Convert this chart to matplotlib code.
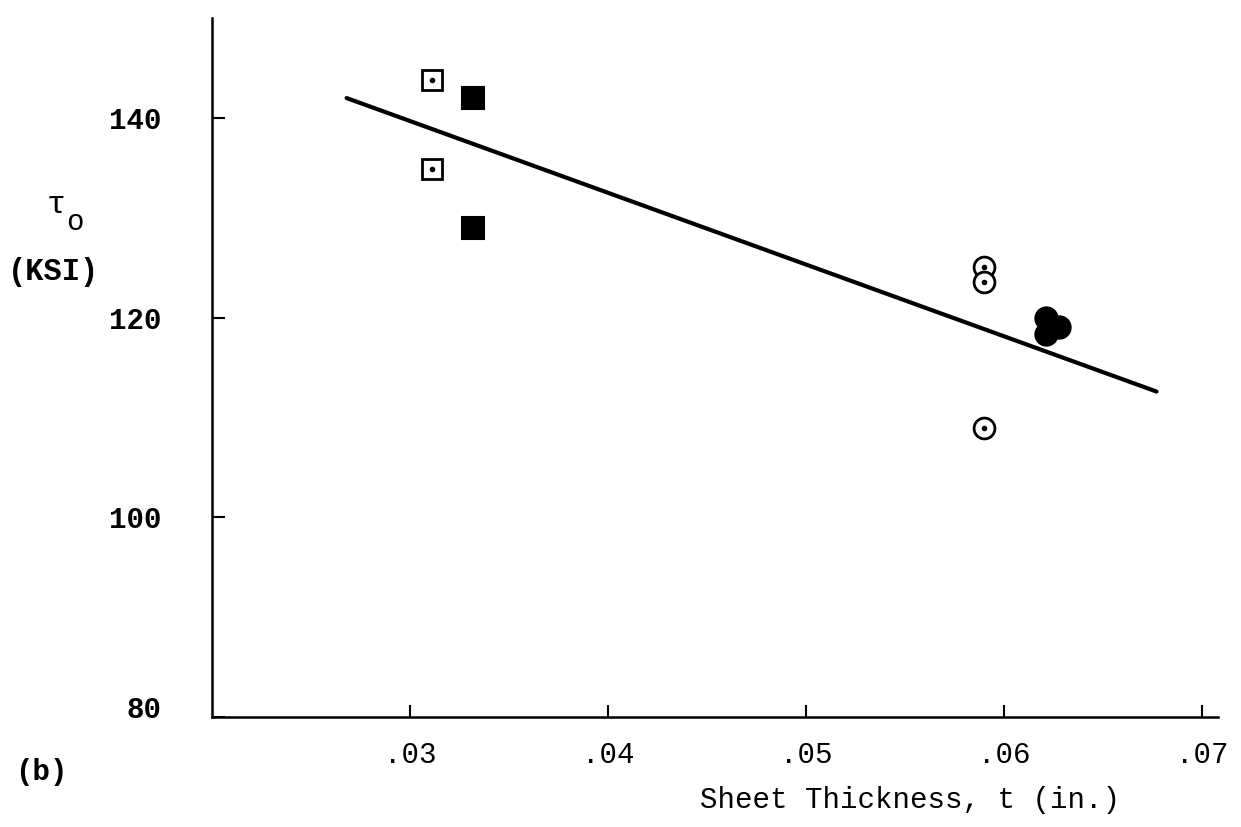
import matplotlib
matplotlib.use("Agg")
import matplotlib.pyplot as plt
from matplotlib.transforms import ScaledTranslation

# Sheet thickness (in.) and initial shear stress tau_o (ksi) for each group
sq_open_t = [0.0311, 0.0311]
sq_open_tau = [143.8, 134.9]

sq_fill_t = [0.0332, 0.0332]
sq_fill_tau = [142.0, 129.0]

ci_open_t = [0.0590, 0.0590, 0.0590]
ci_open_tau = [125.1, 123.6, 108.9]

ci_fill_t = [0.0621, 0.0621, 0.0628]
ci_fill_tau = [120.0, 118.4, 119.1]

# Trend line end points
fit_t = [0.0268, 0.0677]
fit_tau = [142.0, 112.6]

x_ticks = [0.03, 0.04, 0.05, 0.06, 0.07]
x_tick_labels = [".03", ".04", ".05", ".06", ".07"]
y_ticks = [80, 100, 120, 140]
y_tick_labels = ["80", "100", "120", "140"]

mono = "Liberation Mono"

fig = plt.figure(figsize=(12.41, 8.27), dpi=100)
ax = fig.add_axes([0.1708, 0.133, 0.8106, 0.845])

ax.plot(fit_t, fit_tau, color="black", lw=3.0, solid_capstyle="round", zorder=2)

ax.plot(sq_open_t, sq_open_tau, linestyle="none", marker="s", ms=14.5,
        mfc="white", mec="black", mew=2.0, zorder=3)
ax.plot(sq_open_t, sq_open_tau, linestyle="none", marker="o", ms=3,
        color="black", zorder=4)

ax.plot(sq_fill_t, sq_fill_tau, linestyle="none", marker="s", ms=16,
        mfc="black", mec="black", mew=1.5, zorder=3)

ax.plot(ci_open_t, ci_open_tau, linestyle="none", marker="o", ms=15,
        mfc="white", mec="black", mew=2.0, zorder=3)
ax.plot(ci_open_t, ci_open_tau, linestyle="none", marker="o", ms=3,
        color="black", zorder=4)

ax.plot(ci_fill_t, ci_fill_tau, linestyle="none", marker="o", ms=16,
        mfc="black", mec="black", mew=1.5, zorder=3)

ax.set_xlim(0.02, 0.0708)
ax.set_ylim(80, 150)

for side in ("top", "right"):
    ax.spines[side].set_visible(False)
for side in ("left", "bottom"):
    ax.spines[side].set_linewidth(1.8)

ax.set_xticks(x_ticks)
ax.set_xticklabels(x_tick_labels, fontfamily=mono, fontsize=21)
ax.set_yticks(y_ticks)
ax.set_yticklabels(y_tick_labels, fontfamily=mono, fontsize=21, fontweight="bold")
ax.tick_params(axis="x", direction="in", length=9, width=1.5, pad=17)
ax.tick_params(axis="y", direction="in", length=9, width=1.5, pad=36)

# the bottom label sits a little above the corner of the axes
lbl80 = ax.get_yticklabels()[0]
lbl80.set_transform(lbl80.get_transform()
                    + ScaledTranslation(0, 0.1, fig.dpi_scale_trans))

fig.text(0.045, 0.752, "τ", fontfamily=mono, fontsize=23, ha="center", va="center")
fig.text(0.060, 0.731, "o", fontfamily=mono, fontsize=21, ha="center", va="center")
fig.text(0.0435, 0.671, "(KSI)", fontfamily=mono, fontsize=22, fontweight="bold",
         ha="center", va="center")
fig.text(0.0330, 0.066, "(b)", fontfamily=mono, fontsize=21, fontweight="bold",
         ha="center", va="center")
fig.text(0.733, 0.033, "Sheet Thickness, t (in.)", fontfamily=mono, fontsize=21,
         ha="center", va="center")

fig.savefig("out.png", dpi=100, facecolor="white")
